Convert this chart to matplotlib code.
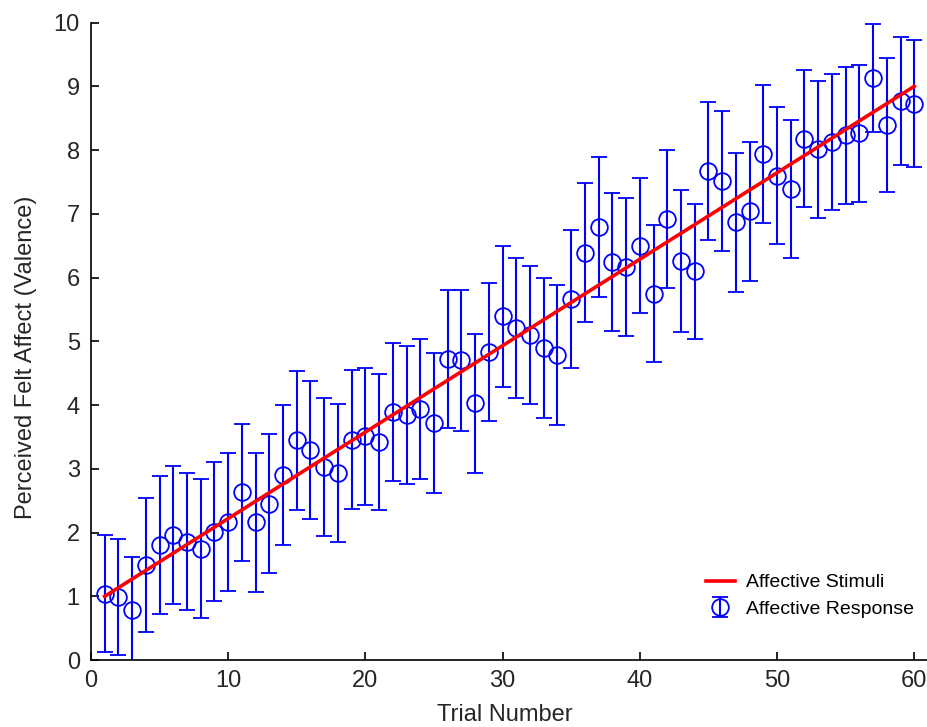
import matplotlib
matplotlib.use("Agg")
import matplotlib.pyplot as plt

# trial numbers 1..60
trials = list(range(1, 61))

# mean perceived valence per trial
response = [1.04, 0.99, 0.79, 1.49, 1.80, 1.96, 1.86, 1.75, 2.01, 2.17,
            2.63, 2.16, 2.45, 2.90, 3.45, 3.30, 3.03, 2.93, 3.46, 3.51,
            3.42, 3.89, 3.85, 3.94, 3.72, 4.72, 4.70, 4.03, 4.83, 5.39,
            5.21, 5.10, 4.89, 4.79, 5.66, 6.39, 6.79, 6.24, 6.17, 6.50,
            5.75, 6.92, 6.26, 6.10, 7.67, 7.51, 6.87, 7.04, 7.94, 7.60,
            7.39, 8.18, 8.01, 8.13, 8.23, 8.26, 9.13, 8.39, 8.77, 8.73]

# half length of the error bars
response_err = [0.92, 0.91, 0.82, 1.05, 1.08, 1.08, 1.08, 1.09, 1.09, 1.08,
                1.08, 1.09, 1.09, 1.10, 1.09, 1.08, 1.08, 1.08, 1.09, 1.07,
                1.07, 1.08, 1.08, 1.10, 1.10, 1.08, 1.10, 1.09, 1.08, 1.10,
                1.10, 1.08, 1.10, 1.10, 1.08, 1.09, 1.10, 1.08, 1.08, 1.06,
                1.07, 1.08, 1.11, 1.06, 1.08, 1.10, 1.09, 1.09, 1.08, 1.08,
                1.08, 1.08, 1.08, 1.07, 1.08, 1.07, 0.84, 1.05, 1.01, 1.00]

# stimulus line, end points
stim_x = [1, 60]
stim_y = [1, 9]

plt.rcParams['font.family'] = ['Liberation Sans', 'DejaVu Sans']
txt_col = '#262626'

fig = plt.figure(figsize=(9.28, 7.27), dpi=100)
ax = fig.add_axes([0.098, 0.092, 0.902, 0.877])

ax.plot(stim_x, stim_y, color='red', linewidth=2.6, label='Affective Stimuli',
        zorder=3)
ax.errorbar(trials, response, yerr=response_err, fmt='o', color='blue',
            markerfacecolor='none', markeredgecolor='blue', markersize=12,
            markeredgewidth=1.3, elinewidth=1.5, capsize=6, capthick=1.5,
            label='Affective Response', zorder=2)

ax.set_xlim(0, 61)
ax.set_ylim(0, 10)
ax.set_xticks([0, 10, 20, 30, 40, 50, 60])
ax.set_yticks(range(0, 11))
ax.spines['top'].set_visible(False)
ax.spines['right'].set_visible(False)
ax.spines['left'].set_linewidth(1.2)
ax.spines['bottom'].set_linewidth(1.2)
ax.tick_params(direction='in', length=6, width=1.2, labelsize=17,
               labelcolor=txt_col)
ax.tick_params(axis='y', pad=8)
ax.tick_params(axis='x', pad=7)

ax.set_xlabel('Trial Number', fontsize=17, color=txt_col)
ax.set_ylabel('Perceived Felt Affect (Valence)', fontsize=17, color=txt_col)
ax.xaxis.set_label_coords(0.495, -0.069)
ax.yaxis.set_label_coords(-0.064, 0.475)

ax.legend(loc='lower right', frameon=False, fontsize=14,
          bbox_to_anchor=(1.0, 0.045), handlelength=1.5, handletextpad=0.6,
          labelspacing=0.45, borderpad=0.2)

fig.savefig('out.png', dpi=100)
